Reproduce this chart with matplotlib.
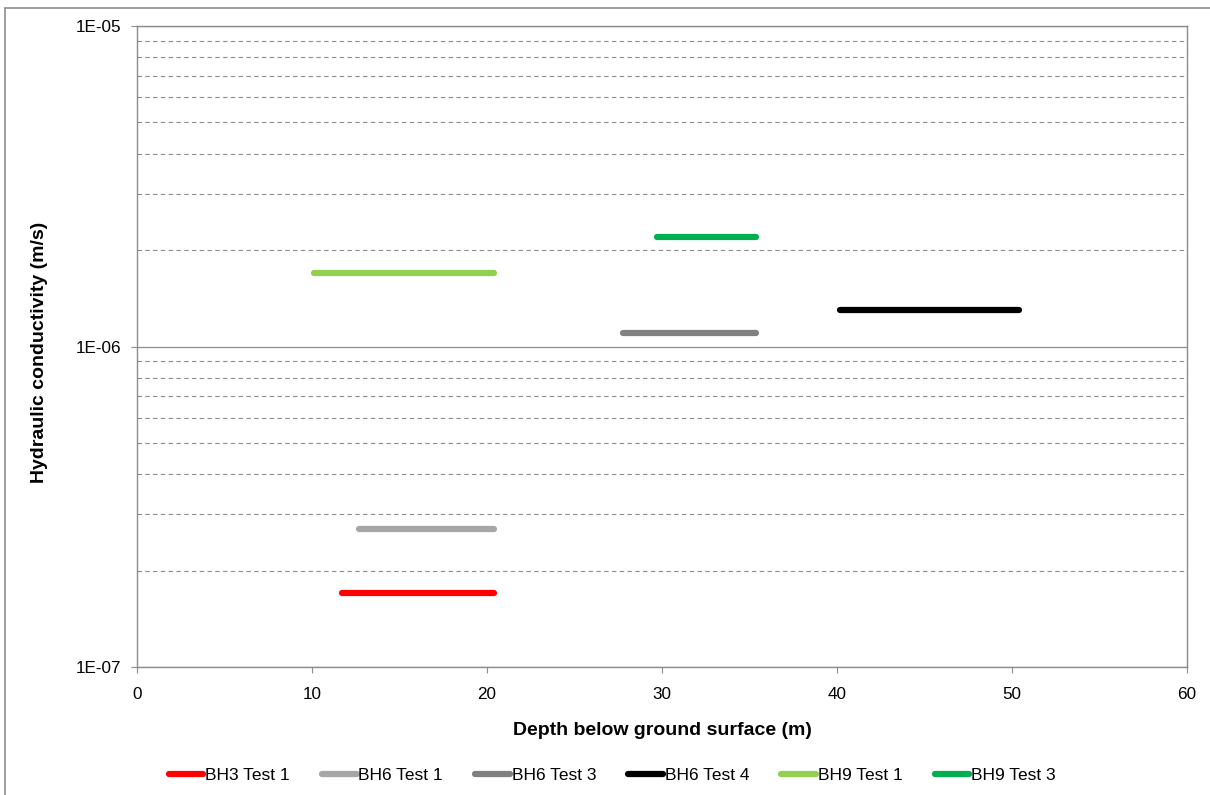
import matplotlib
matplotlib.use("Agg")
import matplotlib.pyplot as plt
from matplotlib.patches import Rectangle
from matplotlib.ticker import LogLocator, FixedLocator, NullFormatter

plt.rcParams['font.family'] = ['Liberation Sans', 'DejaVu Sans']

# Test intervals (depth from / to, m) and hydraulic conductivity (m/s)
labels = ["BH3 Test 1", "BH6 Test 1", "BH6 Test 3", "BH6 Test 4", "BH9 Test 1", "BH9 Test 3"]
depth_top = [11.7, 12.7, 27.8, 40.2, 10.1, 29.7]
depth_bottom = [20.4, 20.4, 35.4, 50.4, 20.4, 35.4]
conductivity = [1.7e-7, 2.7e-7, 1.1e-6, 1.3e-6, 1.7e-6, 2.2e-6]
colors = ["#FF0000", "#A6A6A6", "#808080", "#000000", "#92D050", "#00B050"]

x_ticks = [0, 10, 20, 30, 40, 50, 60]

fig = plt.figure(figsize=(12.1, 7.95), dpi=100)
ax = fig.add_axes([0.1132, 0.161, 0.8678, 0.8063])

# Outer chart frame
fig.patches.append(Rectangle((5 / 1210, -0.05), 1.2, 1 - 8 / 795 + 0.05,
                             transform=fig.transFigure, fill=False,
                             edgecolor="#8C8C8C", linewidth=1.2))

for x0, x1, k, c, lab in zip(depth_top, depth_bottom, conductivity, colors, labels):
    ax.plot([x0, x1], [k, k], color=c, linewidth=4.5, solid_capstyle="round", label=lab)

ax.set_yscale("log")
ax.set_ylim(1e-7, 1e-5)
ax.set_xlim(0, 60)
ax.xaxis.set_major_locator(FixedLocator(x_ticks))
ax.yaxis.set_major_locator(FixedLocator([1e-7, 1e-6, 1e-5]))
ax.yaxis.set_minor_locator(LogLocator(base=10, subs=range(2, 10)))
ax.yaxis.set_minor_formatter(NullFormatter())
ax.set_yticklabels(["1E-07", "1E-06", "1E-05"])

ax.grid(True, which="major", axis="y", color="#8C8C8C", linewidth=0.9, linestyle="-")
ax.grid(True, which="minor", axis="y", color="#8C8C8C", linewidth=0.8, linestyle=(0, (4, 3)))
ax.set_axisbelow(True)

for s in ax.spines.values():
    s.set_color("#8C8C8C")
    s.set_linewidth(1.0)

ax.tick_params(axis="both", which="major", direction="out", length=4.5, color="#8C8C8C",
               labelsize=12.3, labelcolor="black")
ax.tick_params(axis="y", which="major", pad=7)
ax.tick_params(axis="x", which="major", pad=10)
ax.tick_params(axis="y", which="minor", length=0)

ax.set_xlabel("Depth below ground surface (m)", fontsize=14, fontweight="bold")
ax.set_ylabel("Hydraulic conductivity (m/s)", fontsize=14, fontweight="bold")
ax.xaxis.set_label_coords(0.5, (667 - 730) / 641)
ax.xaxis.label.set_va("center")
ax.yaxis.set_label_coords((40 - 137) / 1050, (667 - 352) / 641)
ax.yaxis.label.set_va("center")
ax.yaxis.label.set_ha("center")

fig.legend(loc="center", bbox_to_anchor=(0.506, 0.025), ncol=6, frameon=False,
           fontsize=12.5, handlelength=2.0, handletextpad=0.1, columnspacing=1.85)

fig.savefig("out.png", dpi=100)
